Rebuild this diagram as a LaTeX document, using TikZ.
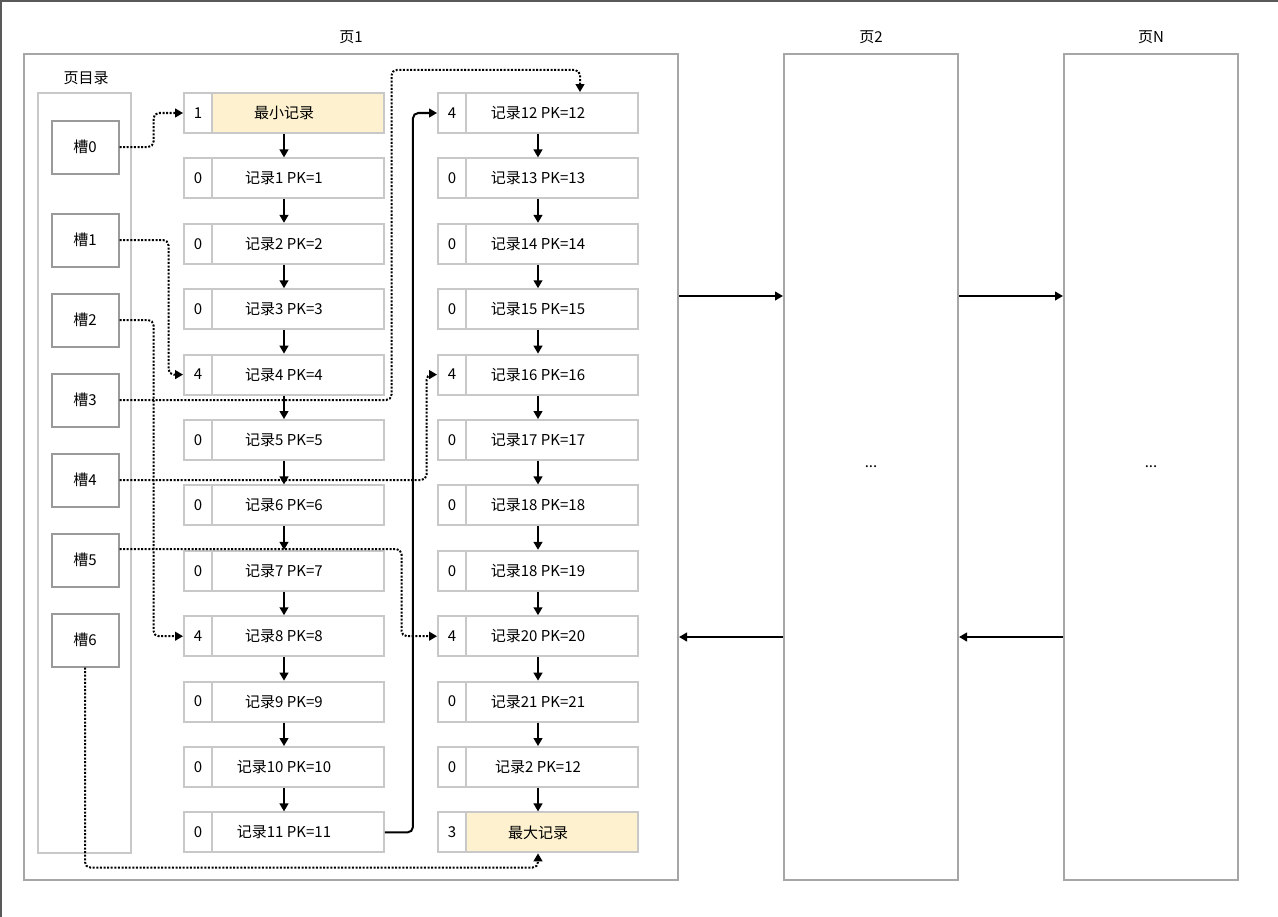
\documentclass[tikz,border=0pt]{standalone}
\usepackage{fontspec}
\setmainfont{Noto Sans CJK SC}
\usetikzlibrary{arrows.meta,positioning}
\definecolor{recline}{HTML}{C8C8C8}
\definecolor{slotline}{HTML}{9A9A9A}
\definecolor{pageline}{HTML}{A6A6A6}
\definecolor{recyellow}{HTML}{FDF1CF}
\tikzset{
  >={Triangle[length=6pt,width=6.5pt]},
  every node/.style={font=\fontsize{11.25}{13}\selectfont},
  rec/.style={draw=recline, line width=1.4pt, minimum width=150pt, minimum height=30pt, inner sep=0pt},
  numcell/.style={draw=recline, line width=1.4pt, fill=white, minimum width=21pt, minimum height=30pt, inner sep=0pt, anchor=west},
  slot/.style={draw=slotline, line width=1.5pt, minimum width=50.25pt, minimum height=39.75pt, inner sep=0pt},
  page/.style={draw=pageline, line width=1.5pt, minimum height=619.5pt, inner sep=0pt},
  link/.style={->, line width=1.5pt, dash pattern=on 1.5pt off 1.2pt, rounded corners=4pt},
  next/.style={->, line width=1.5pt}
}
\begin{document}
\begin{tikzpicture}[x=0.75pt,y=-0.75pt]
      \useasboundingbox (0,0) rectangle (1278,917);
      \draw[line width=1.5pt, black!65] (1278,1) -- (1,1) -- (1,917);

      % pages
      \node[page, minimum width=490.5pt] (p_1) at (351,467) {};
      \node[page, minimum width=130.5pt] (p_2) at (871,467) {...};
      \node[page, minimum width=130.5pt] (p_n) at (1151,467) {...};
      \node (t_1) at (351,37) {页1};
      \node (t_2) at (871,37) {页2};
      \node (t_n) at (1151,37) {页N};

      % page directory
      \node (t_dir) at (86,78) {页目录};
      \node[draw=recline, line width=1.2pt, minimum width=69.75pt, minimum height=570pt] (dir) at (84.5,473) {};
      \foreach \y [count=\i from 0] in {147,240,320,400,480,560,640}
        \node[slot] (s_\i) at (85,\y) {槽\i};

      % records
      \foreach \n/\t/\f [count=\i from 0] in {1/最小记录/recyellow, 0/记录1 PK=1/white,
          0/记录2 PK=2/white, 0/记录3 PK=3/white, 4/记录4 PK=4/white, 0/记录5 PK=5/white,
          0/记录6 PK=6/white, 0/记录7 PK=7/white, 4/记录8 PK=8/white, 0/记录9 PK=9/white,
          0/记录10 PK=10/white, 0/记录11 PK=11/white} {
        \node[rec, fill=\f] (l_\i) at (284,{113+65.4*\i}) {\t};
        \node[numcell] (ln_\i) at (l_\i.west) {\n};
      }
      \foreach \n/\t/\f [count=\i from 0] in {4/记录12 PK=12/white, 0/记录13 PK=13/white,
          0/记录14 PK=14/white, 0/记录15 PK=15/white, 4/记录16 PK=16/white, 0/记录17 PK=17/white,
          0/记录18 PK=18/white, 0/记录18 PK=19/white, 4/记录20 PK=20/white, 0/记录21 PK=21/white,
          0/记录2 PK=12/white, 3/最大记录/recyellow} {
        \node[rec, fill=\f] (r_\i) at (538,{113+65.4*\i}) {\t};
        \node[numcell] (rn_\i) at (r_\i.west) {\n};
      }
      \foreach \i in {0,...,10} {
        \pgfmathtruncatemacro\j{\i+1}
        \draw[next] (l_\i) -- (l_\j);
        \draw[next] (r_\i) -- (r_\j);
      }
      \draw[next, rounded corners=4pt] (l_11.east) -- ++(28,0) |- (r_0.west);

      % slots to records
      \coordinate (top) at (580,70);
      \draw[link] (s_0.east) -- ++(34,0) |- (l_0.west);
      \draw[link] (s_1.east) -- ++(49,0) |- (l_4.west);
      \draw[link] (s_2.east) -- ++(34,0) |- (l_8.west);
      \draw[link] (s_3.east) -- ++(272,0) |- (top) -- ([xshift=31.5pt]r_0.north);
      \draw[link] (s_4.east) -- ++(307,0) |- (r_4.west);
      \draw[link] ([yshift=8.25pt]s_5.east) -- ++(282,0) |- (r_8.west);
      \draw[link] (s_6.south) -- ++(0,200) -| (r_11.south);

      % page links
      \draw[next] ([yshift=128.25pt]p_1.east) -- ([yshift=128.25pt]p_2.west);
      \draw[next] ([yshift=128.25pt]p_2.east) -- ([yshift=128.25pt]p_n.west);
      \draw[next] ([yshift=-127.5pt]p_2.west) -- ([yshift=-127.5pt]p_1.east);
      \draw[next] ([yshift=-127.5pt]p_n.west) -- ([yshift=-127.5pt]p_2.east);
    \end{tikzpicture}
\end{document}
